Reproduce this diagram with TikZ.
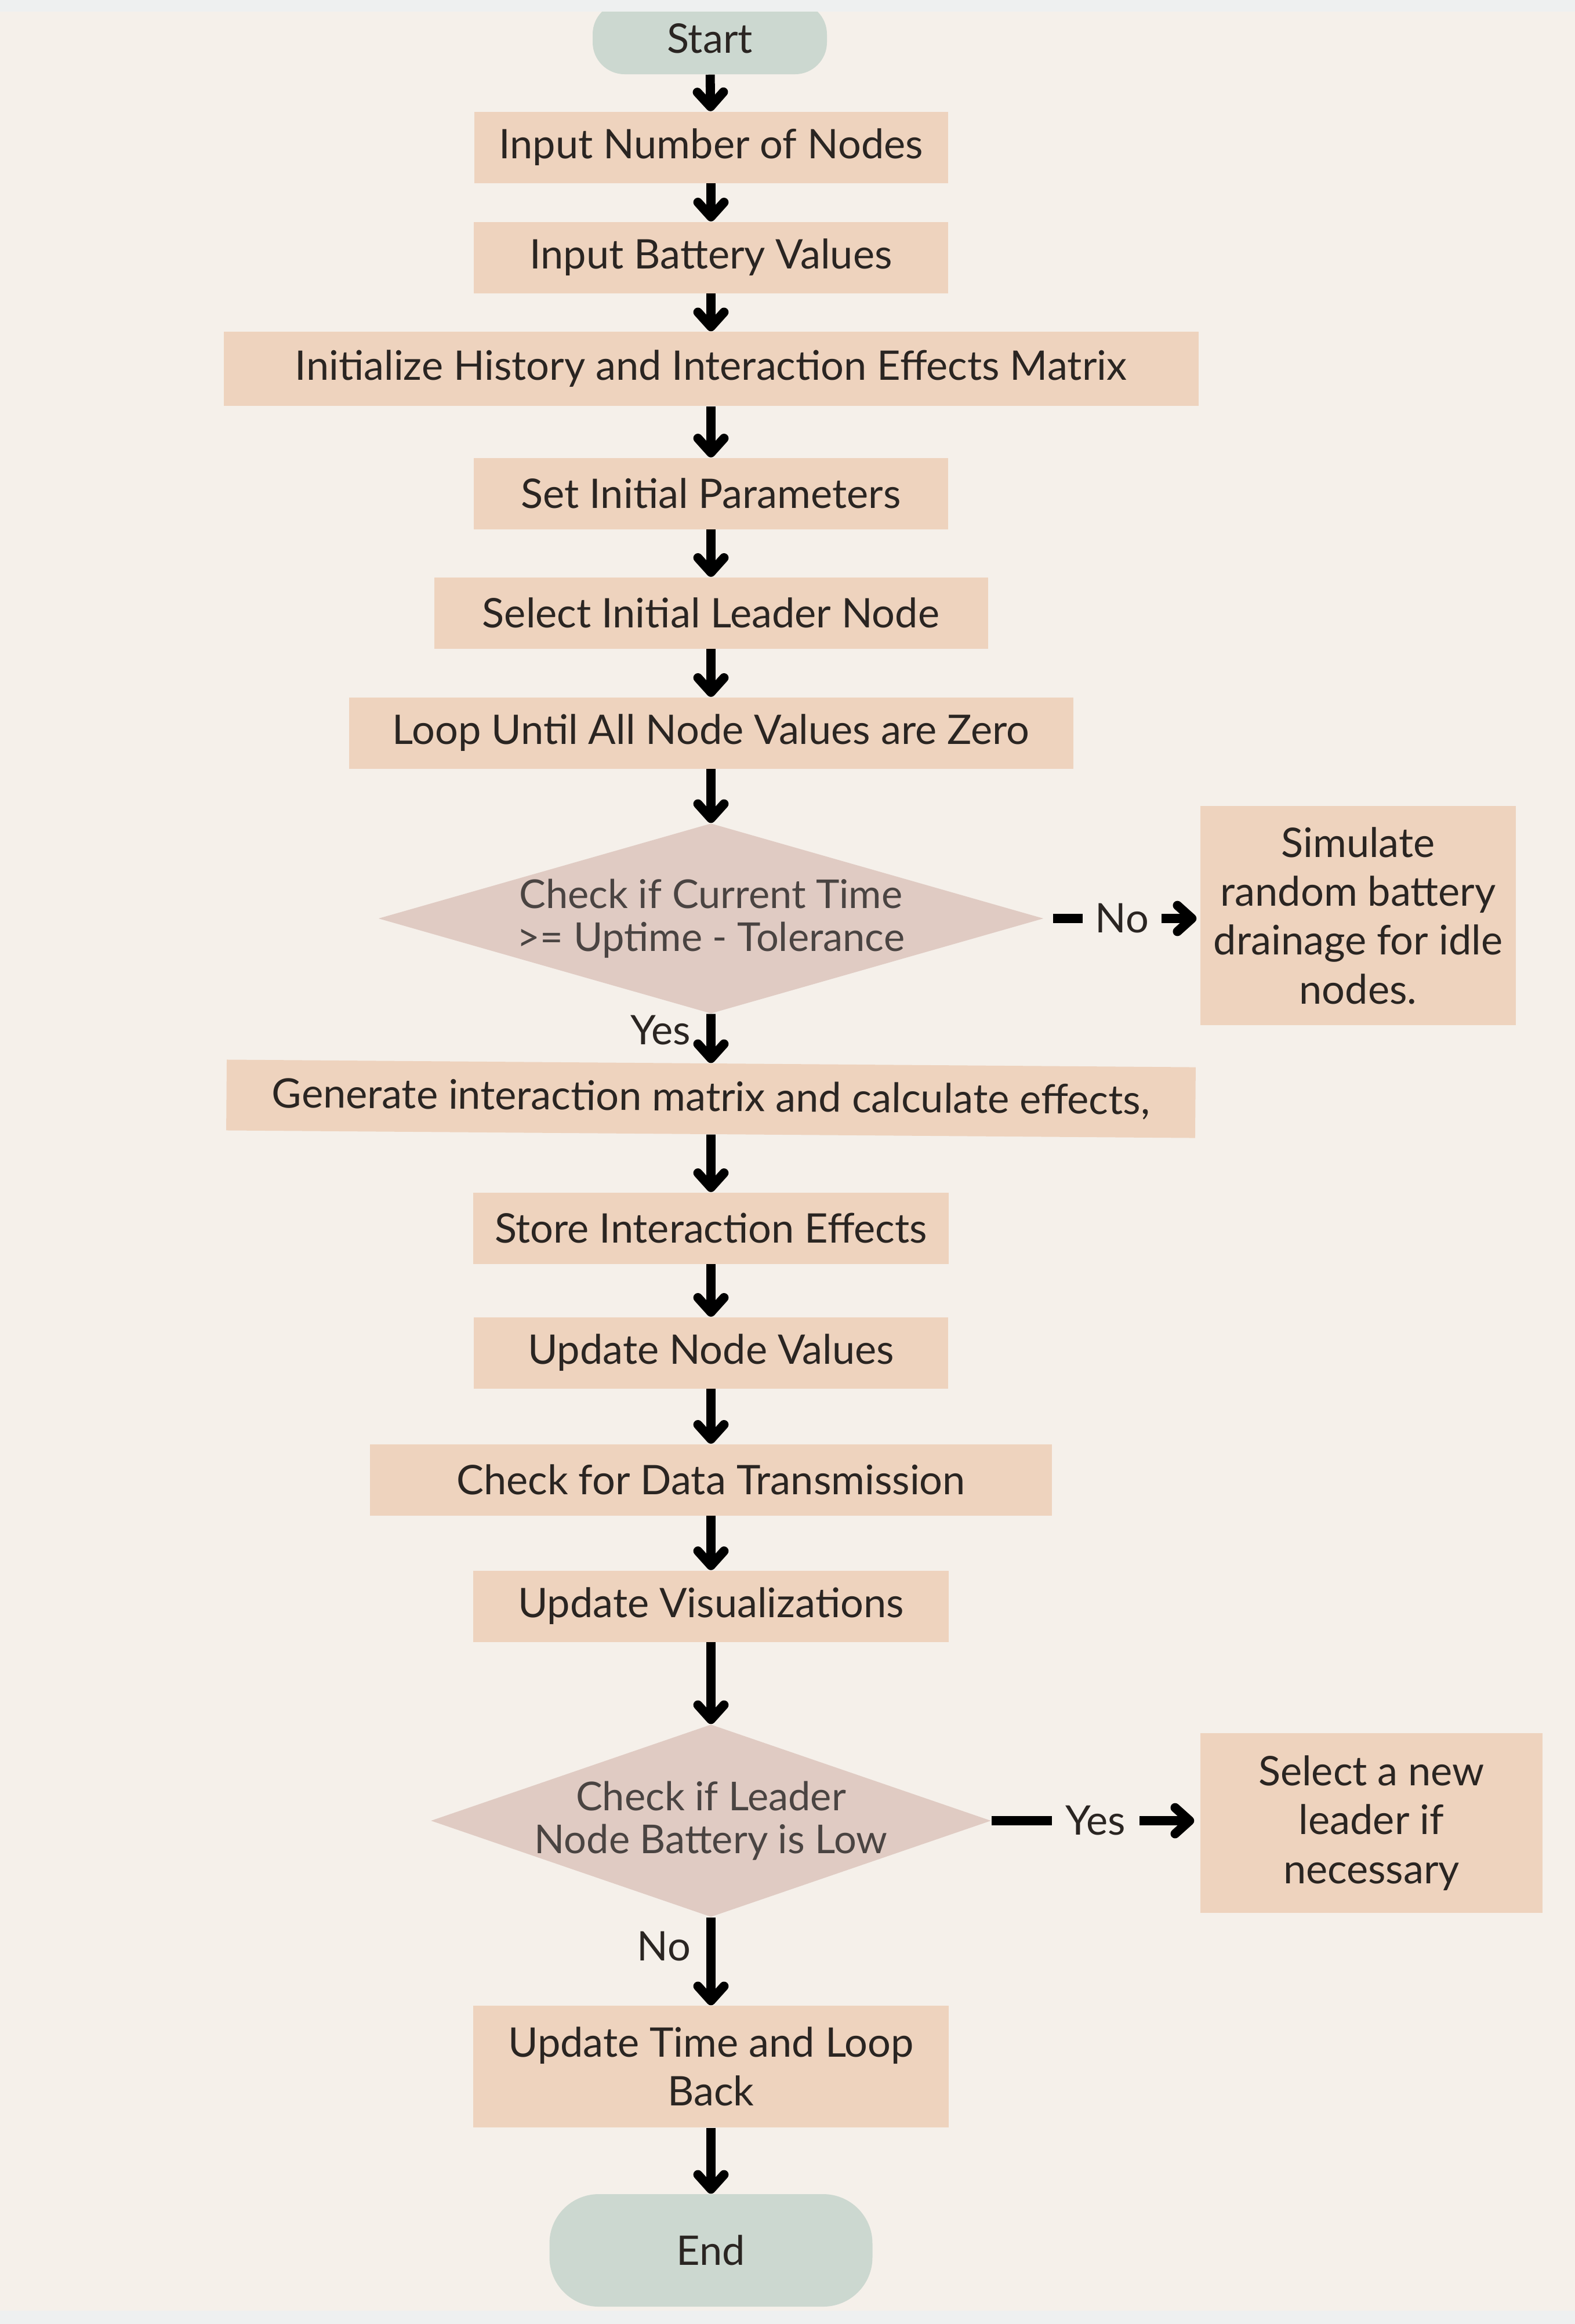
\documentclass[tikz,border=0pt]{standalone}
\usepackage{fontspec}
\setmainfont{Lato}
\usetikzlibrary{shapes.geometric,arrows.meta}
\definecolor{bg}{HTML}{F5F0EA}
\definecolor{band}{HTML}{EEF0F0}
\definecolor{boxc}{HTML}{EED3BE}
\definecolor{diac}{HTML}{E0CBC3}
\definecolor{termc}{HTML}{CCD8D0}
\definecolor{txt}{HTML}{2A2522}
\definecolor{diatxt}{HTML}{4A4442}

\begin{document}
\begin{tikzpicture}[
  box/.style={fill=boxc,inner sep=0pt,minimum height=1.23cm,text=txt,align=center,font=\fontsize{20}{24}\selectfont},
  dia/.style={diamond,fill=diac,inner sep=0pt,shape aspect=3.5,text=diatxt,align=center,font=\fontsize{19.5}{21}\selectfont},
  term/.style={fill=termc,inner sep=0pt,text=txt,font=\fontsize{20}{24}\selectfont},
  arr/.style={line width=4.5pt,-{Straight Barb[length=0.25cm,width=0.45cm,round]}},
  lbl/.style={text=txt,font=\fontsize{20}{24}\selectfont}]
\useasboundingbox (0,0) rectangle (27.16,-40.08);
\fill[bg] (0,0) rectangle (27.16,-40.08);
\draw(12.24,-0.66) node[term,minimum width=4.04cm,minimum height=1.24cm,rounded corners=0.55cm] (start) {Start};
\draw(12.26,-2.54) node[box,minimum width=8.17cm] (inpnum) {Input Number of Nodes};
\draw(12.26,-4.44) node[box,minimum width=8.18cm] (inpbat) {Input Battery Values};
\draw(12.26,-6.36) node[box,minimum width=16.81cm,minimum height=1.28cm] (init) {Initialize History and Interaction Effects Matrix};
\draw(12.26,-8.51) node[box,minimum width=8.18cm] (setpar) {Set Initial Parameters};
\draw(12.26,-10.57) node[box,minimum width=9.55cm] (selldr) {Select Initial Leader Node};
\draw(12.26,-12.64) node[box,minimum width=12.49cm] (loop) {Loop Until All Node Values are Zero};
\draw(12.26,-15.84) node[dia,minimum width=11.47cm,minimum height=3.28cm] (chktime) {Check if Current Time\\>= Uptime - Tolerance};
\draw(23.42,-15.79) node[box,minimum width=5.44cm,minimum height=3.78cm] (drain) {Simulate\\random battery\\drainage for idle\\nodes.};
\draw(12.26,-18.95) node[box,minimum width=16.71cm,minimum height=1.22cm,rotate=-0.45] (gen) {Generate interaction matrix and calculate effects,};
\draw(12.26,-21.18) node[box,minimum width=8.2cm] (store) {Store Interaction Effects};
\draw(12.26,-23.33) node[box,minimum width=8.18cm] (updval) {Update Node Values};
\draw(12.26,-25.52) node[box,minimum width=11.76cm] (chkdata) {Check for Data Transmission};
\draw(12.26,-27.70) node[box,minimum width=8.2cm] (updvis) {Update Visualizations};
\draw(12.26,-31.40) node[dia,inner sep=-0.14cm,shape aspect=2.9,minimum width=9.66cm,minimum height=3.32cm] (chkldr) {Check if Leader\\Node Battery is Low};
\draw(23.65,-31.44) node[box,minimum width=5.9cm,minimum height=3.1cm] (newldr) {Select a new\\leader if\\necessary};
\draw(12.26,-35.64) node[box,minimum width=8.2cm,minimum height=2.1cm] (updtime) {Update Time and Loop\\Back};
\draw(12.26,-38.81) node[term,minimum width=5.57cm,minimum height=1.94cm,rounded corners=0.85cm] (end) {End};
\fill[band] (0,0) rectangle (27.16,-0.2);
\fill[band] (0,-39.85) rectangle (27.16,-40.08);
\draw[arr] (start) -- (inpnum);
\draw[arr] (inpnum) -- (inpbat);
\draw[arr] (inpbat) -- (init);
\draw[arr] (init) -- (setpar);
\draw[arr] (setpar) -- (selldr);
\draw[arr] (selldr) -- (loop);
\draw[arr] (loop) -- (chktime);
\draw[arr,shorten <=0.16cm,shorten >=0.06cm] (chktime.east) -- node[lbl,fill=bg,inner xsep=0.22cm] {No} (chktime.east -| drain.west);
\draw[arr] (chktime) -- node[lbl,left,pos=0.33,xshift=-0.15cm] {Yes} (gen);
\draw[arr] (gen) -- (store);
\draw[arr] (store) -- (updval);
\draw[arr] (updval) -- (chkdata);
\draw[arr] (chkdata) -- (updvis);
\draw[arr] (updvis) -- (chkldr);
\draw[arr,shorten >=0.1cm] (chkldr.east) -- node[lbl,fill=bg,inner xsep=0.24cm] {Yes} (chkldr.east -| newldr.west);
\draw[arr] (chkldr) -- node[lbl,left,pos=0.33,xshift=-0.15cm] {No} (updtime);
\draw[arr] (updtime) -- (end);
\end{tikzpicture}
\end{document}
